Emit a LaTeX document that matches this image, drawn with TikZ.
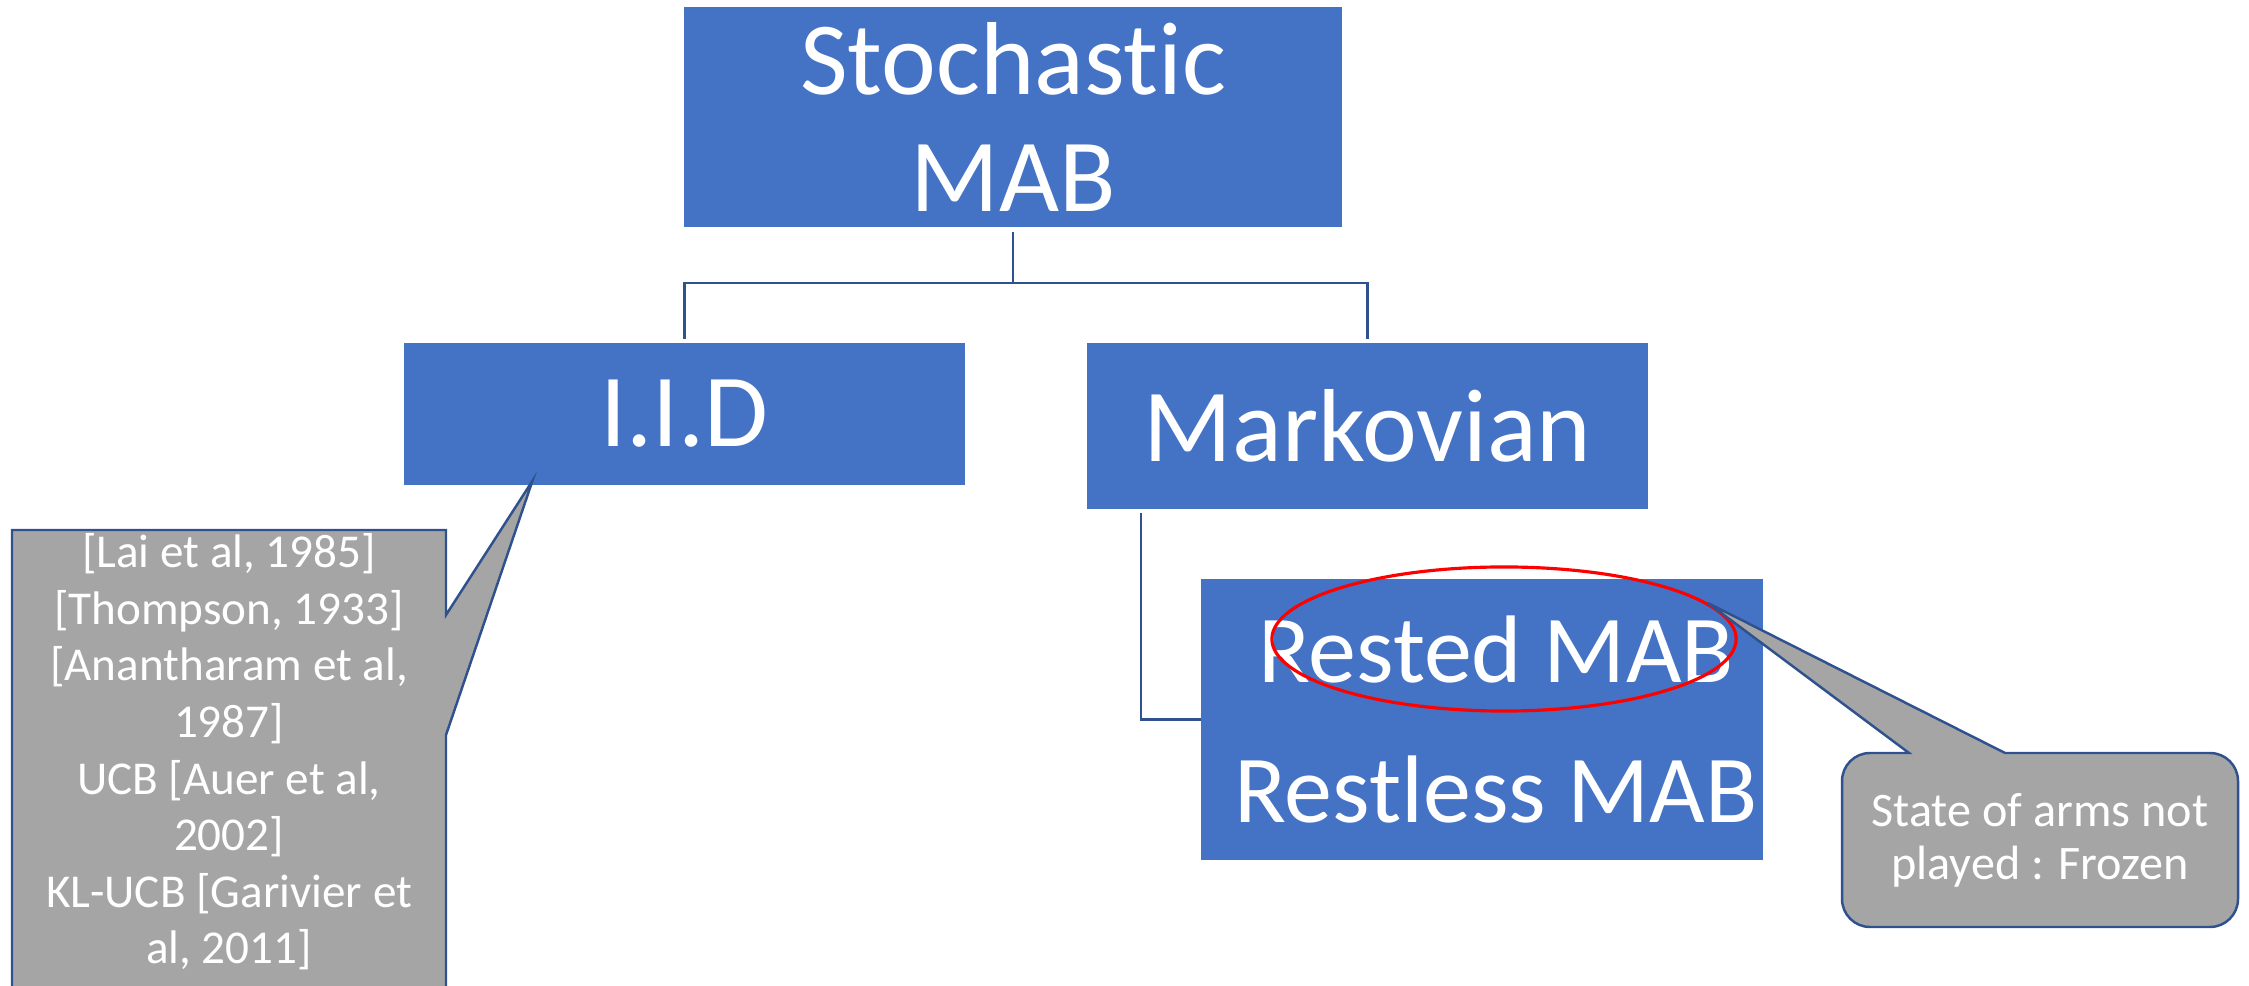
\documentclass[tikz,border=0pt]{standalone}
\usepackage{fontspec}
\setmainfont{Carlito}[Ligatures=NoCommon]
\usetikzlibrary{shapes.geometric,positioning,calc}
\definecolor{boxblue}{HTML}{4472C4}
\definecolor{lineblue}{HTML}{2F528F}
\definecolor{calloutgray}{HTML}{A5A5A5}

\begin{document}
\begin{tikzpicture}[x=0.01cm, y=-0.01cm,
    cat/.style={fill=boxblue, text=white, minimum width=5.61cm, align=center, inner sep=0pt, font=\fontsize{29.5}{33}\selectfont},
    conn/.style={draw=lineblue, line width=0.6pt},
    callout/.style={fill=calloutgray, draw=lineblue, line width=0.7pt, line join=miter},
    note/.style={text=white, align=center, inner sep=0pt}
]
\useasboundingbox (0,0) rectangle (2249,986);

% tree of categories
\node[cat, minimum width=6.58cm, minimum height=2.2cm] (mab) at (1013,117) {Stochastic\\MAB};
\node[cat, minimum height=1.42cm] (iid) at (684.5,414) {I.I.D};
\node[cat, minimum height=1.66cm] (markov) at (1367.5,426) {Markovian};
\node[cat, minimum height=2.81cm, font=\fontsize{27.3}{40}\selectfont] (rest) at (1482,719.5)
  {\hspace*{0.28cm}Rested MAB\\\hspace*{0.28cm}Restless MAB};

\draw[conn] ($(mab.south)+(0,4)$) -- ++(0,51) -| ($(iid.north)+(0,-3)$);
\draw[conn] ($(mab.south)+(0,4)$) -- ++(0,51) -| ($(markov.north)+(0,-3)$);
\draw[conn] ($(markov.south west)+(55,3)$) |- (rest.west);

\node[ellipse, draw=red, line width=0.9pt, minimum width=4.64cm, minimum height=1.44cm, inner sep=0pt] (ring) at (1504,639) {};

% callouts
\coordinate (iidtip) at ($(iid.south)+(-152,-5)$);
\path[callout] (12,986) -- (12,530) -- (446,530) -- (446,615) -- (iidtip) -- (446,735) -- (446,986);
\node[note, font=\fontsize{13.4}{16.1}\selectfont] (refs) at (229,752)
  {{[}Lai et al, 1985{]}\\{[}Thompson, 1933{]}\\{[}Anantharam et al,\\1987{]}\\UCB {[}Auer et al,\\2002{]}\\KL-UCB {[}Garivier et\\al, 2011{]}};

\coordinate (ringtip) at (ring.10);
\draw[callout] (2005,753) -- (ringtip) -- (1909,753) -- (1880,753)
  [rounded corners=0.28cm] -- (1842,753) -- (1842,927) -- (2238,927) -- (2238,753) -- (2100,753)
  [sharp corners] -- cycle;
\node[note, font=\fontsize{13.7}{15.1}\selectfont] (frozen) at (2040,840) {State of arms not\\played : Frozen};
\end{tikzpicture}
\end{document}
